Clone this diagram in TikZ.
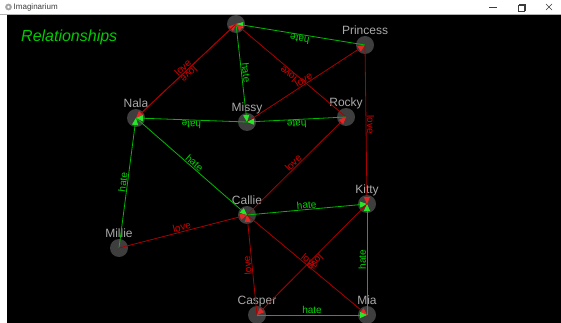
\documentclass[tikz,border=0pt]{standalone}
\usepackage{fontspec}
\setmainfont{Liberation Sans}
\usetikzlibrary{arrows.meta}
\definecolor{lovered}{RGB}{170,0,0}
\definecolor{lovetip}{RGB}{225,40,40}
\definecolor{lovetext}{RGB}{215,0,0}
\definecolor{hategreen}{RGB}{0,185,0}
\definecolor{hatetip}{RGB}{40,230,40}
\definecolor{hatetext}{RGB}{0,215,0}
\definecolor{nodegray}{RGB}{62,62,62}
\definecolor{labgray}{RGB}{170,170,170}
\definecolor{titlegray}{RGB}{60,60,60}
\tikzset{
  person/.style={circle, fill=nodegray, minimum size=18pt, inner sep=0pt, outer sep=0pt},
  namelab/.style={text=labgray, font=\fontsize{12}{14}\selectfont, inner sep=0pt, text depth=0pt, label distance=1.4pt},
  lovel/.style={line width=0.8pt, draw=lovered, -{Triangle[length=7pt,width=6pt,color=lovetip]}},
  hatel/.style={line width=0.8pt, draw=hategreen, -{Triangle[length=7pt,width=6pt,color=hatetip]}},
  elab/.style={sloped, allow upside down, above, inner sep=0.6pt, font=\fontsize{10}{12}\selectfont},
  lovet/.style={elab, text=lovetext},
  hatet/.style={elab, text=hatetext},
}
\begin{document}
\begin{tikzpicture}[x=1pt,y=-1pt]
\useasboundingbox (0,0) rectangle (561,323);
\fill[white] (0,0) rectangle (561,323);
\fill[black] (7,14) rectangle (561,323);
% title
\node[text=green!80!black, font=\fontsize{16}{18}\selectfont\itshape, anchor=west, inner sep=0pt] (title) at (21,37.5) {Relationships};
% nodes
\node[person] (top) at (236,24) {};
\node[person, label={[namelab]above:Princess}] (princess) at (365,45) {};
\node[person, label={[namelab]above:Nala}] (nala) at (136,118) {};
\node[person, label={[namelab]above:Missy}] (missy) at (247,122) {};
\node[person, label={[namelab]above:Rocky}] (rocky) at (346,117) {};
\node[person, label={[namelab]above:Callie}] (callie) at (247,215) {};
\node[person, label={[namelab]above:Kitty}] (kitty) at (367,204) {};
\node[person, label={[namelab]above:Millie}] (millie) at (119,248) {};
\node[person, label={[namelab]above:Casper}] (casper) at (257,315) {};
\node[person, label={[namelab]above:Mia}] (mia) at (367,315) {};
% edges
\draw[hatel] (princess.center) -- node[hatet]{hate} (top.center);
\draw[lovel] (nala.center) -- node[lovet]{love} (top.center);
\draw[lovel] (top.center) -- node[lovet]{love} (nala.center);
\draw[hatel] (top.center) -- node[hatet]{hate} (missy.center);
\draw[lovel] (rocky.center) -- node[lovet]{love} (top.center);
\draw[lovel] (missy.center) -- node[lovet]{love} (princess.center);
\draw[hatel] (missy.center) -- node[hatet]{hate} (nala.center);
\draw[hatel] (rocky.center) -- node[hatet]{hate} (missy.center);
\draw[hatel] (nala.center) -- node[hatet]{hate} (callie.center);
\draw[hatel] (millie.center) -- node[hatet]{hate} (nala.center);
\draw[lovel] (millie.center) -- node[lovet]{love} (callie.center);
\draw[lovel] (callie.center) -- node[lovet]{love} (rocky.center);
\draw[hatel] (callie.center) -- node[hatet]{hate} (kitty.center);
\draw[lovel] (princess.center) -- node[lovet]{love} (kitty.center);
\draw[lovel] (casper.center) -- node[lovet]{love} (callie.center);
\draw[lovel] (callie.center) -- node[lovet]{love} (mia.center);
\draw[lovel] (kitty.center) -- node[lovet]{love} (casper.center);
\draw[hatel] (casper.center) -- node[hatet]{hate} (mia.center);
\draw[hatel] (mia.center) -- node[hatet]{hate} (kitty.center);
% window title bar
\fill[white] (0,0) rectangle (561,14);
\draw[gray!60, line width=0.4pt] (0,14) -- (561,14);
\fill[gray!70] (8.5,7) circle (3.4pt);
\fill[white] (8.5,7) circle (1.3pt);
\node[anchor=west, inner sep=0pt, text=titlegray, font=\fontsize{8}{9}\selectfont] (appname) at (13.5,7) {Imaginarium};
\draw[titlegray, line width=0.5pt] (489,7.5) -- (497,7.5);
\draw[titlegray, line width=0.5pt] (518,5.5) rectangle (524,11.5);
\draw[titlegray, line width=0.5pt] (519.5,5.5) -- (519.5,4) -- (525.5,4) -- (525.5,10) -- (524,10);
\draw[titlegray, line width=0.5pt] (546,4) -- (552,10) (546,10) -- (552,4);
\end{tikzpicture}
\end{document}
